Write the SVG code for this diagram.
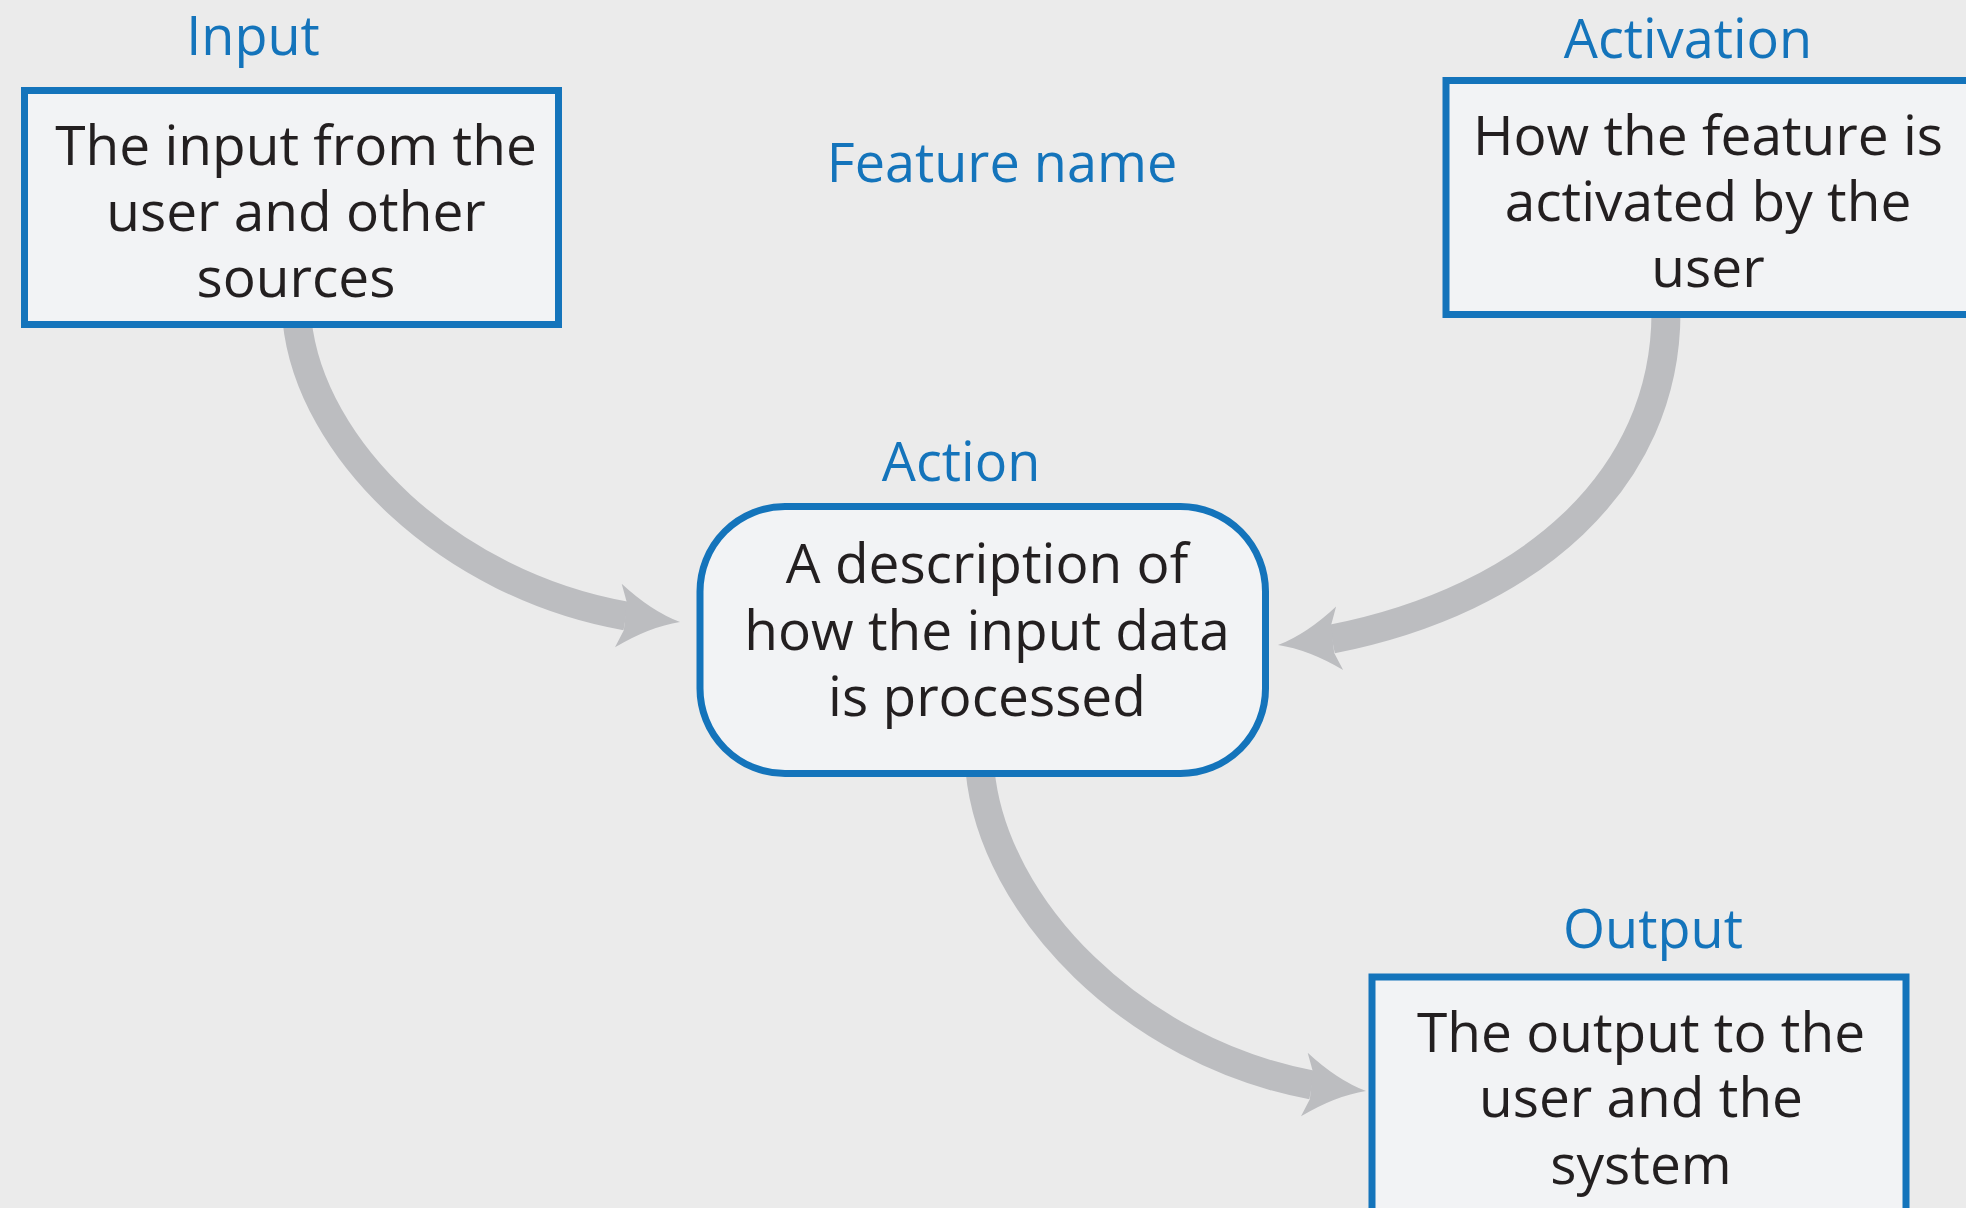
<svg xmlns="http://www.w3.org/2000/svg" width="1966" height="1208" viewBox="0 0 1966 1208">
<defs>
<style>
.bg{fill:#ebebeb}
.box{fill:#f2f3f5;stroke:#1474bb;stroke-width:7}
.lbl{font-family:"Open Sans","Noto Sans","Liberation Sans",sans-serif;font-size:54px;fill:#1474bb;text-anchor:middle}
.txt{font-family:"Open Sans","Noto Sans","Liberation Sans",sans-serif;font-size:55px;font-weight:500;fill:#231f20;text-anchor:middle}
.shaft{fill:none;stroke:#bcbdc0;stroke-width:29}
.head{fill:#bcbdc0}
</style>
<path id="ah" d="M0,0 Q-30,-8 -62,-32 L-55,-14 L-55,14 L-62,32 Q-30,8 0,0 Z"/>
</defs>
<rect class="bg" x="0" y="0" width="1966" height="1208"/>
<text class="lbl" x="1002" y="182">Feature name</text>
<g id="connectors">
<path class="shaft" d="M297,320 C310,450 450,585 626,616"/>
<use href="#ah" class="head" transform="translate(680,622) rotate(6)"/>
<path class="shaft" d="M1666,312 C1666,480 1530,600 1332,639"/>
<use href="#ah" class="head" transform="translate(1278,645) rotate(173.7)"/>
<path class="shaft" d="M980,770 C993,909 1135,1052 1312,1085"/>
<use href="#ah" class="head" transform="translate(1366,1091) rotate(6)"/>
</g>
<g id="input">
<text class="lbl" x="253" y="55">Input</text>
<rect class="box" x="24.5" y="90.5" width="534" height="234"/>
<text class="txt" x="296" y="165">The input from the</text>
<text class="txt" x="296" y="231">user and other</text>
<text class="txt" x="296" y="297">sources</text>
</g>
<g id="activation">
<text class="lbl" x="1688" y="58">Activation</text>
<rect class="box" x="1446" y="80.5" width="600" height="234"/>
<text class="txt" x="1708" y="155">How the feature is</text>
<text class="txt" x="1708" y="221">activated by the</text>
<text class="txt" x="1708" y="287">user</text>
</g>
<g id="action">
<text class="lbl" x="961" y="481">Action</text>
<rect class="box" x="700" y="506.5" width="565.5" height="267" rx="85" ry="85"/>
<text class="txt" x="987" y="583">A description of</text>
<text class="txt" x="987" y="650">how the input data</text>
<text class="txt" x="987" y="716">is processed</text>
</g>
<g id="output">
<text class="lbl" x="1653" y="948">Output</text>
<rect class="box" x="1372" y="977" width="534" height="300"/>
<text class="txt" x="1641" y="1052">The output to the</text>
<text class="txt" x="1641" y="1117">user and the</text>
<text class="txt" x="1641" y="1184">system</text>
</g>
</svg>
